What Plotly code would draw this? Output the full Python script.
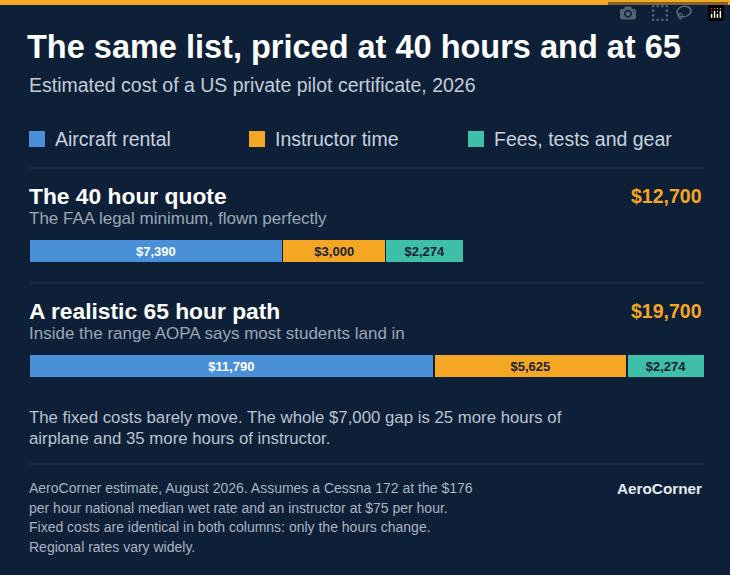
import plotly.graph_objects as go

rows = ["The 40 hour quote", "A realistic 65 hour path"]
row_notes = ["The FAA legal minimum, flown perfectly", "Inside the range AOPA says most students land in"]
row_totals = ["$12,700", "$19,700"]
series = ["Aircraft rental", "Instructor time", "Fees, tests and gear"]
aircraft = [7390, 11790]
instructor = [3000, 5625]
fees = [2274, 2274]

BG = "#0e2038"
COLORS = ["#4a90d9", "#f5a623", "#3dbfa8"]
TXT = ["#ffffff", "#1a2233", "#1a2233"]
FONT = "Liberation Sans, Arial, sans-serif"
W, H, L, R = 730, 575, 29, 705
BAR_Y = [251, 366]

fig = go.Figure()
for name, vals, col, tc in zip(series, [aircraft, instructor, fees], COLORS, TXT):
    fig.add_trace(go.Bar(
        x=vals, y=BAR_Y, orientation="h", width=24, name=name,
        marker=dict(color=col, line=dict(color=BG, width=1.5)),
        text=[f"${v:,}" for v in vals], textposition="inside", insidetextanchor="middle",
        textfont=dict(family=FONT, size=13, color=tc, weight="bold"),
        showlegend=False, hoverinfo="skip"))

total_max = max(a + b + c for a, b, c in zip(aircraft, instructor, fees))
fig.update_layout(
    width=W, height=H, paper_bgcolor=BG, plot_bgcolor=BG, barmode="stack",
    barcornerradius=3, margin=dict(l=L, r=W - R, t=0, b=0),
    xaxis=dict(range=[0, total_max], visible=False, fixedrange=True),
    yaxis=dict(range=[H, 0], visible=False, fixedrange=True),
    font=dict(family=FONT),
)

def px(x):
    return (x - L) / (R - L)

def py(y):
    return 1 - y / H

def txt(x, y, s, size, color, bold=False, anchor="left"):
    fig.add_annotation(x=px(x), y=py(y), xref="paper", yref="paper", text=s, showarrow=False,
                       xanchor=anchor, yanchor="middle", xshift=-2 if anchor == "left" else 2,
                       font=dict(family=FONT, size=size, color=color, weight="bold" if bold else "normal"))

def hline(y):
    fig.add_shape(type="line", xref="paper", yref="paper", x0=px(L), x1=px(R), y0=py(y), y1=py(y),
                  line=dict(color="#26374f", width=1))

fig.add_shape(type="rect", xref="paper", yref="paper", x0=px(0), x1=px(W), y0=py(0), y1=py(5),
              line=dict(width=0), fillcolor="#f5a623")
txt(27, 47, "The same list, priced at 40 hours and at 65", 32.5, "#ffffff", True)
txt(29, 85, "Estimated cost of a US private pilot certificate, 2026", 19.5, "#c3ccd8")

for sx, name, col in zip([29, 249, 468], series, COLORS):
    fig.add_shape(type="rect", xref="paper", yref="paper", x0=px(sx), x1=px(sx + 16),
                  y0=py(131), y1=py(147), line=dict(width=0), fillcolor=col)
    txt(sx + 26, 139, name, 19.5, "#c9d2de")

hline(168)
for i, (r, note, tot) in enumerate(zip(rows, row_notes, row_totals)):
    base = 196 + 115 * i
    txt(29, base, r, 22.8, "#ffffff", True)
    txt(R - 3, base, tot, 19.5, "#f5a623", True, "right")
    txt(29, base + 22, note, 17, "#9ba7b7")
hline(283)

txt(29, 417, "The fixed costs barely move. The whole $7,000 gap is 25 more hours of", 16.8, "#b9c3d0")
txt(29, 438, "airplane and 35 more hours of instructor.", 16.8, "#b9c3d0")
hline(464)
foot = ["AeroCorner estimate, August 2026. Assumes a Cessna 172 at the $176",
        "per hour national median wet rate and an instructor at $75 per hour.",
        "Fixed costs are identical in both columns: only the hours change.",
        "Regional rates vary widely."]
for j, line in enumerate(foot):
    txt(29, 488 + 19.5 * j, line, 14, "#a9b3c1")
txt(R - 3, 488, "AeroCorner", 15.3, "#e6ebf2", True, "right")

fig.write_html("out.html", post_script="document.body.style.margin='0';document.body.style.background='#0e2038';")
